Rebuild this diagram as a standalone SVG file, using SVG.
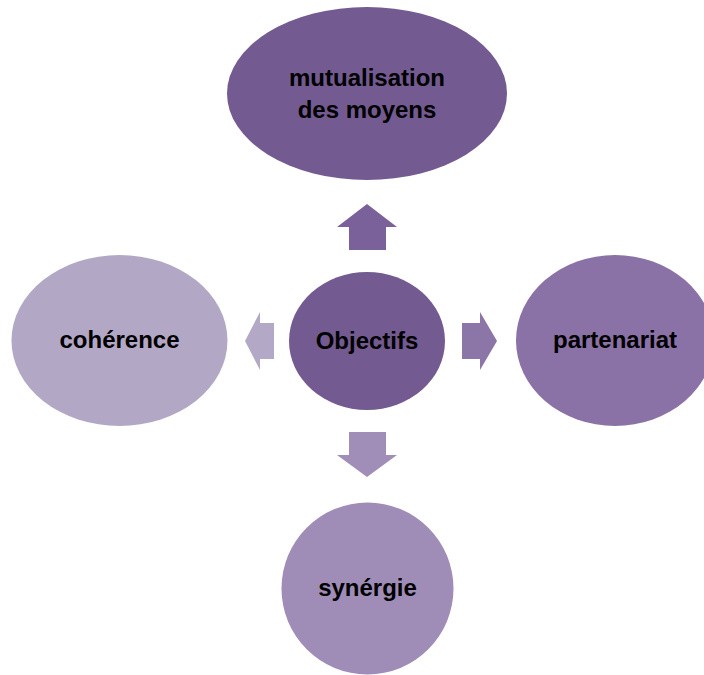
<svg xmlns="http://www.w3.org/2000/svg" width="704" height="675" viewBox="0 0 704 675">
<style>
text{font-family:"Liberation Sans",Arial,sans-serif;font-weight:bold;font-size:24px;fill:#000;text-anchor:middle}
</style>
<rect width="704" height="675" fill="#fff"/>
<g id="connectors">
<polygon id="arrow-up" points="367,204 397,227 386,227 386,250 349,250 349,227 337,227" fill="#7B6199"/>
<polygon id="arrow-left" points="245,341 260,312 260,323 274,323 274,359 260,359 260,370" fill="#B3A9C7"/>
<polygon id="arrow-right" points="497,341 480,312 480,323 462,323 462,359 480,359 480,370" fill="#8C75A7"/>
<polygon id="arrow-down" points="367,477 397,455 386,455 386,432 349,432 349,455 337,455" fill="#A08EB8"/>
</g>
<g id="node-objectifs">
<ellipse cx="367" cy="341" rx="78" ry="69" fill="#735A91"/>
<text x="367" y="349">Objectifs</text>
</g>
<g id="node-mutualisation">
<ellipse cx="367" cy="93.5" rx="140" ry="86.5" fill="#735A91"/>
<text x="367" y="86">mutualisation</text>
<text x="367" y="118">des moyens</text>
</g>
<g id="node-partenariat">
<ellipse cx="615" cy="340.5" rx="99" ry="85.5" fill="#8B72A6"/>
<text x="615" y="348">partenariat</text>
</g>
<g id="node-coherence">
<ellipse cx="119.5" cy="340.5" rx="108" ry="85.5" fill="#B2A8C6"/>
<text x="119.5" y="348">cohérence</text>
</g>
<g id="node-synergie">
<ellipse cx="367.5" cy="588.5" rx="86" ry="86" fill="#9F8DB7"/>
<text x="367.5" y="596">synérgie</text>
</g>
</svg>
